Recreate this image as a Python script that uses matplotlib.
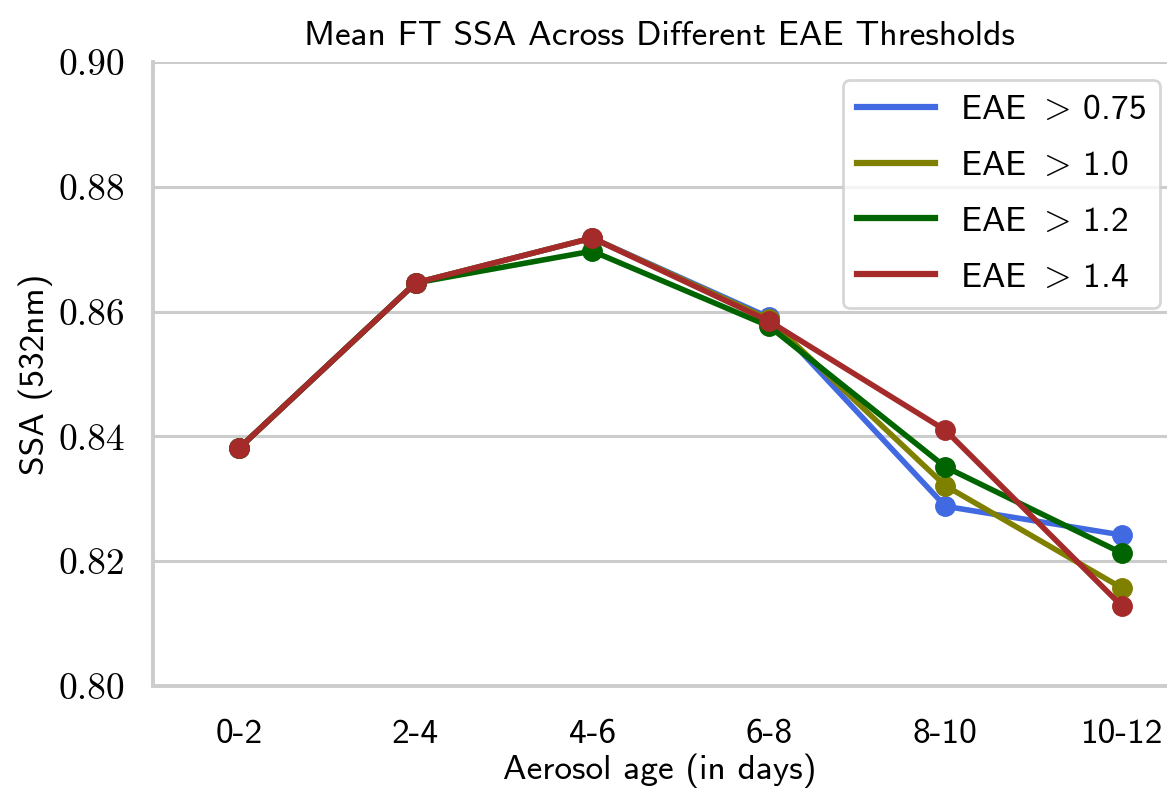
import numpy as np
import matplotlib
matplotlib.use("Agg")
import matplotlib.pyplot as plt

# ---------- data ----------
age_bins = ["0-2", "2-4", "4-6", "6-8", "8-10", "10-12"]
ssa_eae_075 = [0.8381, 0.8646, 0.8718, 0.8591, 0.8288, 0.8242]
ssa_eae_10 = [0.8381, 0.8646, 0.8718, 0.8588, 0.8321, 0.8157]
ssa_eae_12 = [0.8381, 0.8646, 0.8697, 0.8577, 0.8351, 0.8213]
ssa_eae_14 = [0.8381, 0.8646, 0.8718, 0.8585, 0.8410, 0.8128]
labels = [r"EAE $>\,$0.75", r"EAE $>\,$1.0", r"EAE $>\,$1.2", r"EAE $>\,$1.4"]
colors = ["royalblue", "olive", "darkgreen", "brown"]

plt.rcParams["mathtext.fontset"] = "cm"
plt.rcParams["axes.formatter.use_mathtext"] = True
sans = "cmss10"
serif = "cmr10"

fig = plt.figure(figsize=(11.67, 7.92), dpi=100)
ax = fig.add_axes([0.1311, 0.1338, 1 - 0.1311, 0.7879])

x = np.arange(len(age_bins))
for vals, lab, c in zip([ssa_eae_075, ssa_eae_10, ssa_eae_12, ssa_eae_14], labels, colors):
    ax.plot(x, vals, color=c, lw=4, marker="o", markersize=14, label=lab)

ax.set_xlim(-0.487, 5.255)
ax.set_ylim(0.80, 0.90)
ax.set_yticks([0.80, 0.82, 0.84, 0.86, 0.88, 0.90])
ax.set_yticklabels(["%.2f" % v for v in ax.get_yticks()], family=serif, fontsize=27)
ax.set_xticks(x)
ax.set_xticklabels(age_bins, family=sans, fontsize=25.5)
ax.tick_params(length=0)
ax.tick_params(axis="x", pad=24)
ax.tick_params(axis="y", pad=20)

ax.grid(axis="y", color="#cccccc", lw=2.2)
ax.set_axisbelow(True)
for s in ["top", "right"]:
    ax.spines[s].set_visible(False)
for s in ["left", "bottom"]:
    ax.spines[s].set_color("#cccccc")
    ax.spines[s].set_linewidth(2.8)

ax.set_xlabel("Aerosol age (in days)", family=sans, fontsize=25.5, labelpad=2)
ax.set_ylabel("SSA (532nm)", family=sans, fontsize=25.5, labelpad=4)
ax.set_title("Mean FT SSA Across Different EAE Thresholds", family=sans, fontsize=25.5, pad=12)

leg = ax.legend(loc="upper right", bbox_to_anchor=(0.993, 0.971), borderaxespad=0,
                prop={"family": sans, "size": 25.5}, handlelength=2.2,
                handletextpad=0.7, labelspacing=0.68, frameon=True, fancybox=True)
leg.get_frame().set_edgecolor("#cccccc")
leg.get_frame().set_linewidth(2.0)
for h in leg.get_lines():
    h.set_marker("")
    h.set_linewidth(4.5)

fig.savefig("out.png", dpi=100)
